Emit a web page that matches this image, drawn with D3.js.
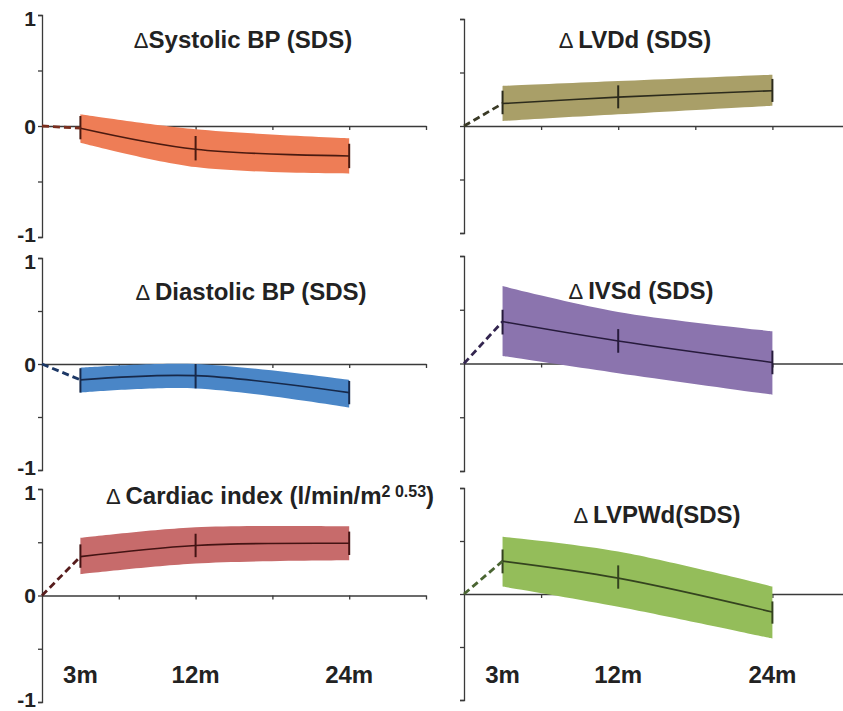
<!DOCTYPE html>
<html>
<head>
<meta charset="utf-8">
<script src="https://cdn.jsdelivr.net/npm/d3@7"></script>
<style>
  html, body { margin: 0; padding: 0; background: #fff; }
  svg { display: block; font-family: "Liberation Sans", Arial, sans-serif; }
</style>
</head>
<body>
<svg id="chart" width="843" height="711"></svg>
<script>
// Follow-up visits (months) and axis ticks
const months = [3, 12, 24];
const monthLabels = ["3m", "12m", "24m"];
const xTickMonths = [6, 12, 18, 24, 30];
const yTickValues = [-1, -0.5, 0, 0.5, 1];
const yLabelValues = [1, 0, -1];
const yLabelText = ["1", "0", "-1"];

// Δ Systolic BP (SDS)
const systolicMean = [-0.02, -0.21, -0.27];
const systolicBandHigh = [0.105, -0.03, -0.11];
const systolicBandLow = [-0.15, -0.37, -0.43];
const systolicErrHigh = [0.09, -0.09, -0.16];
const systolicErrLow = [-0.12, -0.31, -0.38];

// Δ LVDd (SDS)
const lvddMean = [0.21, 0.27, 0.33];
const lvddBandHigh = [0.375, 0.42, 0.48];
const lvddBandLow = [0.047, 0.11, 0.19];
const lvddErrHigh = [0.33, 0.38, 0.44];
const lvddErrLow = [0.11, 0.165, 0.225];

// Δ Diastolic BP (SDS)
const diastolicMean = [-0.15, -0.11, -0.27];
const diastolicBandHigh = [-0.035, 0.0, -0.15];
const diastolicBandLow = [-0.27, -0.23, -0.41];
const diastolicErrHigh = [-0.04, 0.0, -0.16];
const diastolicErrLow = [-0.27, -0.23, -0.38];

// Δ IVSd (SDS)
const ivsdMean = [0.39, 0.21, 0.01];
const ivsdBandHigh = [0.72, 0.48, 0.30];
const ivsdBandLow = [0.07, -0.09, -0.29];
const ivsdErrHigh = [0.50, 0.32, 0.12];
const ivsdErrLow = [0.27, 0.10, -0.10];

// Δ Cardiac index (l/min/m^2 0.53)
const cardiacMean = [0.365, 0.47, 0.49];
const cardiacBandHigh = [0.54, 0.64, 0.65];
const cardiacBandLow = [0.20, 0.30, 0.33];
const cardiacErrHigh = [0.48, 0.58, 0.60];
const cardiacErrLow = [0.26, 0.36, 0.38];

// Δ LVPWd (SDS)
const lvpwdMean = [0.31, 0.15, -0.17];
const lvpwdBandHigh = [0.54, 0.40, 0.07];
const lvpwdBandLow = [0.07, -0.12, -0.42];
const lvpwdErrHigh = [0.42, 0.27, -0.07];
const lvpwdErrLow = [0.195, 0.05, -0.28];

const panels = [
  { title: [["Δ", "normal"], ["Systolic BP (SDS)", "bold"]], mean: systolicMean, hi: systolicBandHigh, lo: systolicBandLow, eh: systolicErrHigh, el: systolicErrLow,
    fill: "#ee7d56", line: "#4a1a10", dash: "#7a2e1e" },
  { title: [["Δ ", "normal"], ["LVDd (SDS)", "bold"]], mean: lvddMean, hi: lvddBandHigh, lo: lvddBandLow, eh: lvddErrHigh, el: lvddErrLow,
    fill: "#a99f68", line: "#2c2b1c", dash: "#3a3a26" },
  { title: [["Δ ", "normal"], ["Diastolic BP (SDS)", "bold"]], mean: diastolicMean, hi: diastolicBandHigh, lo: diastolicBandLow, eh: diastolicErrHigh, el: diastolicErrLow,
    fill: "#4a86c7", line: "#17294a", dash: "#1d3866" },
  { title: [["Δ ", "normal"], ["IVSd (SDS)", "bold"]], mean: ivsdMean, hi: ivsdBandHigh, lo: ivsdBandLow, eh: ivsdErrHigh, el: ivsdErrLow,
    fill: "#8b74ae", line: "#271b3c", dash: "#33254f" },
  { title: [["Δ ", "normal"], ["Cardiac index (l/min/m", "bold"], ["2 0.53", "sup"], [")", "bold"]], mean: cardiacMean, hi: cardiacBandHigh, lo: cardiacBandLow, eh: cardiacErrHigh, el: cardiacErrLow,
    fill: "#c76b6b", line: "#431313", dash: "#561c1c" },
  { title: [["Δ ", "normal"], ["LVPWd(SDS)", "bold"]], mean: lvpwdMean, hi: lvpwdBandHigh, lo: lvpwdBandLow, eh: lvpwdErrHigh, el: lvpwdErrLow,
    fill: "#94bd5a", line: "#34431f", dash: "#4a6532" }
];

// Panel frames: y-axis position, pixel span of -1..1, title anchor
const frames = [
  { ax: 42,  ppm: 12.8,  top: 15,  bottom: 237, tx: 243, ty: 48 },
  { ax: 464, ppm: 12.85, top: 19,  bottom: 233, tx: 635, ty: 48 },
  { ax: 42,  ppm: 12.8,  top: 258, bottom: 470, tx: 251, ty: 300 },
  { ax: 464, ppm: 12.85, top: 256, bottom: 471, tx: 641, ty: 299 },
  { ax: 42,  ppm: 12.8,  top: 489, bottom: 702, tx: 270, ty: 504 },
  { ax: 464, ppm: 12.85, top: 488, bottom: 700, tx: 657, ty: 523 }
];

// small vertical nudges for the y labels so neighbouring panels' "-1" and "1" stay apart
const yLabelNudge = { "1": 3, "0": 0, "-1": -3 };

const svg = d3.select("#chart");
svg.append("rect").attr("width", 843).attr("height", 711).attr("fill", "#fff");

const curve = d3.curveCatmullRom.alpha(0.5);

panels.forEach((p, i) => {
  const f = frames[i];
  const x = d3.scaleLinear().domain([0, 30]).range([f.ax, f.ax + 30 * f.ppm]);
  const y = d3.scaleLinear().domain([-1, 1]).range([f.bottom, f.top]);
  const g = svg.append("g");
  const isLeft = i % 2 === 0;
  const isBottom = i >= 4;

  // y axis with short outward ticks
  const yAxis = g.append("g").attr("transform", `translate(${f.ax},0)`)
    .call(d3.axisLeft(y).tickValues(yTickValues).tickSize(4).tickSizeOuter(4).tickFormat(""));
  // x axis through zero
  const xAxis = g.append("g").attr("transform", `translate(0,${y(0)})`)
    .call(d3.axisBottom(x).tickValues(xTickMonths).tickSize(4).tickSizeOuter(0).tickFormat(""));
  [yAxis, xAxis].forEach(a => {
    a.selectAll("path, line").attr("stroke", "#3a3a3a").attr("stroke-width", 1.3);
  });

  if (isLeft) {
    g.selectAll("text.ylab").data(yLabelValues).join("text")
      .attr("class", "ylab")
      .attr("x", 36).attr("y", (d, k) => y(d) + yLabelNudge[yLabelText[k]]).attr("dy", "0.36em")
      .attr("text-anchor", "end")
      .attr("font-size", 21).attr("font-weight", "bold").attr("fill", "#222")
      .text((d, k) => yLabelText[k]);
  }

  const pts = months.map((m, k) => ({ m, mean: p.mean[k], hi: p.hi[k], lo: p.lo[k], eh: p.eh[k], el: p.el[k] }));

  // confidence band
  g.append("path").datum(pts)
    .attr("fill", p.fill)
    .attr("d", d3.area().curve(curve).x(d => x(d.m)).y0(d => y(d.lo)).y1(d => y(d.hi)));

  // mean trajectory
  g.append("path").datum(pts)
    .attr("fill", "none").attr("stroke", p.line).attr("stroke-width", 1.6)
    .attr("d", d3.line().curve(curve).x(d => x(d.m)).y(d => y(d.mean)));

  // error bars
  g.selectAll("line.err").data(pts).join("line")
    .attr("class", "err")
    .attr("x1", d => x(d.m)).attr("x2", d => x(d.m))
    .attr("y1", d => y(d.eh)).attr("y2", d => y(d.el))
    .attr("stroke", p.line).attr("stroke-width", 2);

  // dashed segment from baseline to first visit
  g.append("line")
    .attr("x1", x(0)).attr("y1", y(0))
    .attr("x2", x(months[0])).attr("y2", y(p.mean[0]))
    .attr("stroke", p.dash).attr("stroke-width", 2.8).attr("stroke-dasharray", "7,4");

  // title
  const t = g.append("text")
    .attr("x", f.tx).attr("y", f.ty).attr("text-anchor", "middle")
    .attr("font-size", 24).attr("fill", "#222");
  p.title.forEach(([s, kind]) => {
    const ts = t.append("tspan").text(s);
    if (kind === "normal") ts.attr("font-weight", "normal").attr("font-size", 22);
    else if (kind === "sup") ts.attr("font-weight", "bold").attr("font-size", 16).attr("dy", -7);
    else ts.attr("font-weight", "bold");
    if (kind !== "sup" && s === ")") ts.attr("dy", 7);
  });

  // visit labels
  if (isBottom) {
    g.selectAll("text.xlab").data(months).join("text")
      .attr("class", "xlab")
      .attr("x", d => x(d)).attr("y", 683)
      .attr("text-anchor", "middle")
      .attr("font-size", 24).attr("font-weight", "bold").attr("fill", "#222")
      .text((d, k) => monthLabels[k]);
  }
});
</script>
</body>
</html>
